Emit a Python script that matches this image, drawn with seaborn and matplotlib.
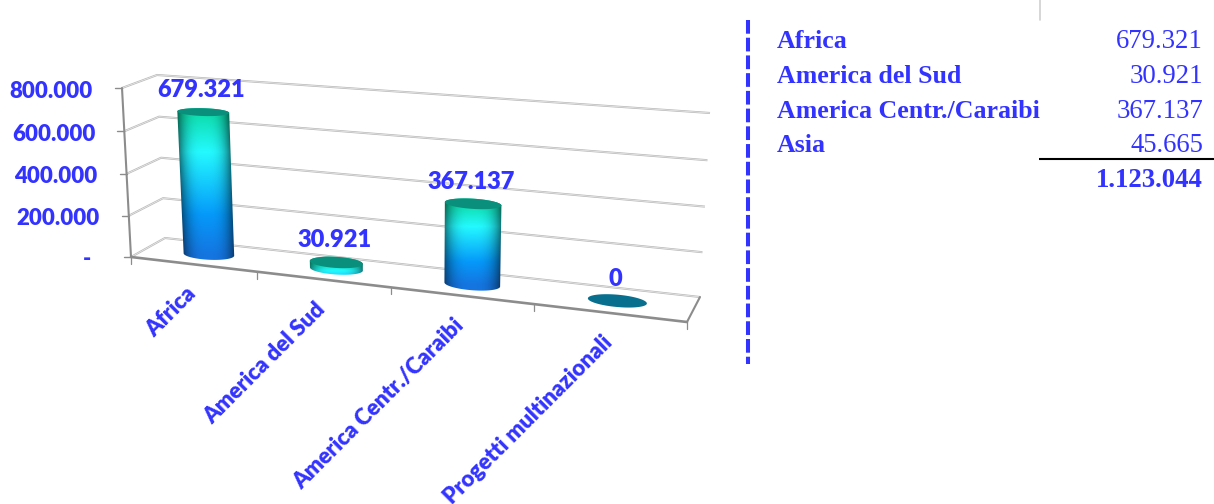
import numpy as np
import matplotlib
matplotlib.use("Agg")
import matplotlib.pyplot as plt
from matplotlib.patches import Polygon
import seaborn as sns

# Chart data
categories = ["Africa", "America del Sud", "America Centr./Caraibi", "Progetti multinazionali"]
values = [679321, 30921, 367137, 0]
axis_levels = [0, 200000, 400000, 600000, 800000]

# Side table data
table_names = ["Africa", "America del Sud", "America Centr./Caraibi", "Asia"]
table_values = [679321, 30921, 367137, 45665]
table_total = 1123044

BLUE = "#3333ff"
AXIS_GREY = "#8c8c8c"
GRID_GREY = "#bababa"
VMAX = axis_levels[-1]
BAR_DEPTH = 0.5
DEPTH_RADIUS = 0.24


def fmt(v):
    return f"{int(v):,}".replace(",", ".")


def homography(corners):
    """Plane map from the unit square to pixels, given corners 00, 10, 01, 11."""
    src = [(0, 0), (1, 0), (0, 1), (1, 1)]
    A, b = [], []
    for (u, v), (x, y) in zip(src, corners):
        A.append([u, v, 1, 0, 0, 0, -u * x, -v * x])
        A.append([0, 0, 0, u, v, 1, -u * y, -v * y])
        b += [x, y]
    return np.append(np.linalg.solve(np.array(A, float), np.array(b, float)), 1).reshape(3, 3)


FRONT = homography([(131, 257), (687, 322), (122, 88), (697, 131)])
BACK = homography([(165, 238), (700, 297), (157, 75), (710, 113)])


def apply_h(H, u, v):
    u, v = np.asarray(u, float), np.asarray(v, float)
    w = H[2, 0] * u + H[2, 1] * v + H[2, 2]
    return (H[0, 0] * u + H[0, 1] * v + H[0, 2]) / w, (H[1, 0] * u + H[1, 1] * v + H[1, 2]) / w


def project(cat, value, depth=0.0):
    """Map category position, value and depth (0 front, 1 back) to canvas pixels."""
    u = (np.asarray(cat, float) + 0.5) / len(categories)
    v = np.asarray(value, float) / VMAX
    fx, fy = apply_h(FRONT, u, v)
    bx, by = apply_h(BACK, u, v)
    return (1 - depth) * fx + depth * bx, (1 - depth) * fy + depth * by


def ring(center, half_width, value):
    theta = np.linspace(0, 2 * np.pi, 90)
    depth = BAR_DEPTH + DEPTH_RADIUS * np.sin(theta)
    x, y = project(center + half_width * np.cos(theta), value, depth)
    return np.column_stack([x, y])


def convex_hull(points):
    pts = sorted(map(tuple, points))

    def half(seq):
        out = []
        for p in seq:
            while len(out) > 1 and ((out[-1][0] - out[-2][0]) * (p[1] - out[-2][1])
                                    - (out[-1][1] - out[-2][1]) * (p[0] - out[-2][0])) <= 0:
                out.pop()
            out.append(p)
        return out[:-1]

    return np.array(half(pts) + half(pts[::-1]))


def cylinder_shading(xx, yy, top_xy, base_xy, half_px):
    """RGB shading of a cylinder side: green at the top, cyan, then blue at the base."""
    t = np.clip((yy - top_xy[1]) / max(base_xy[1] - top_xy[1], 30), 0, 1)
    stops = [0, 0.28, 0.72, 1]
    r = np.interp(t, stops, [0.05, 0.14, 0.02, 0.08])
    g = np.interp(t, stops, [0.86, 0.98, 0.60, 0.46])
    b = np.interp(t, stops, [0.66, 1.00, 0.98, 0.88])
    cx = top_xy[0] + t * (base_xy[0] - top_xy[0])
    s = np.clip((xx - cx) / half_px, -1.2, 1.2)
    shade = 1 - 0.5 * np.abs(s) ** 3
    return np.clip(np.dstack([r * shade, g * shade, b * shade]), 0, 1)


sns.set_theme(style="white")
plt.rcParams["font.family"] = ["Lato", "DejaVu Sans"]
LABEL_WEIGHT = 800

fig = plt.figure(figsize=(12.14, 5.04), dpi=100, facecolor="white")

# Bars come from seaborn; their extents are then drawn in the oblique view
bar_ax = fig.add_axes([0, 0, 1, 1])
sns.barplot(x=categories, y=values, width=0.39, ax=bar_ax)
bars = [(p.get_x() + p.get_width() / 2, p.get_width() / 2, p.get_height()) for p in bar_ax.patches]
bar_ax.set_visible(False)

canvas = fig.add_axes([0, 0, 1, 1])
canvas.set_xlim(0, 1214)
canvas.set_ylim(504, 0)
canvas.set_autoscale_on(False)
canvas.axis("off")

left, right = -0.5, len(categories) - 0.5

# Gridlines on the side wall and the back wall
for level in axis_levels:
    path = [project(left, level, 0.0), project(left, level, 1.0), project(right, level, 1.0)]
    xs = [float(p[0]) for p in path]
    ys = [float(p[1]) for p in path]
    canvas.plot(xs, ys, color=GRID_GREY, lw=1.5, zorder=1, solid_capstyle="butt")
    canvas.plot(xs, ys, color="#f1f1f1", lw=0.45, zorder=1.1, solid_capstyle="butt")

# Axis frame
x0, y0 = project(left, 0, 0.0)
x1, y1 = project(left, VMAX, 0.0)
canvas.plot([x0, x1], [y0, y1], color=AXIS_GREY, lw=1.5, zorder=2)
xr, yr = project(right, 0, 0.0)
canvas.plot([x0, xr], [y0, yr], color=AXIS_GREY, lw=1.9, zorder=2)
xb, yb = project(right, 0, 1.0)
canvas.plot([xr, xb], [yr, yb], color=AXIS_GREY, lw=1.5, zorder=2)
for i in range(len(categories) + 1):
    tx, ty = project(left + i, 0, 0.0)
    canvas.plot([tx, tx], [ty, ty + 7], color=AXIS_GREY, lw=0.9, zorder=2)

# Value axis ticks and labels
for level in axis_levels:
    tx, ty = project(left, level, 0.0)
    canvas.plot([tx - 7, tx], [ty, ty], color=AXIS_GREY, lw=1.0, zorder=2)
    label = fmt(level) if level else "-"
    canvas.text(tx - (29 if level else 40), ty + 1, label, ha="right", va="center_baseline", color=BLUE,
                fontsize=16, fontweight=LABEL_WEIGHT)

# Category labels
for i, name in enumerate(categories):
    tx, ty = project(i, 0, 0.0)
    canvas.text(tx - 8, ty + 19, name, rotation=45, rotation_mode="anchor", ha="right", va="top",
                color=BLUE, fontsize=16, fontweight=LABEL_WEIGHT)

# Cylinders
for (center, half_width, value) in bars:
    base = ring(center, half_width, 0)
    top = ring(center, half_width, value)
    base_xy = project(center, 0, BAR_DEPTH)
    top_xy = project(center, value, BAR_DEPTH)
    if value > 0:
        hull = convex_hull(np.vstack([base, top]))
        ex0, ey0 = np.floor(hull.min(axis=0)).astype(int)
        ex1, ey1 = np.ceil(hull.max(axis=0)).astype(int)
        xx, yy = np.meshgrid(np.arange(ex0, ex1) + 0.5, np.arange(ey0, ey1) + 0.5)
        half_px = (base[:, 0].max() - base[:, 0].min()) / 2
        image = cylinder_shading(xx, yy, top_xy, base_xy, half_px)
        im = canvas.imshow(image, extent=(ex0, ex1, ey1, ey0), origin="upper", aspect="auto",
                           interpolation="bilinear", zorder=3)
        im.set_clip_path(Polygon(hull, closed=True, transform=canvas.transData))
        canvas.add_patch(Polygon(top, closed=True, facecolor="#0a8f7c", edgecolor="none", zorder=4))
    else:
        canvas.add_patch(Polygon(top, closed=True, facecolor="#086f8e", edgecolor="none", zorder=4))
    canvas.text(top_xy[0] - 2, top_xy[1] - 24, fmt(value), ha="center", va="center_baseline", color=BLUE,
                fontsize=17, fontweight=LABEL_WEIGHT, zorder=5)

# Divider between chart and table
canvas.plot([748, 748], [20, 364], color=BLUE, lw=2.9, linestyle=(0, (3.4, 1.0)), zorder=2)
canvas.plot([1040, 1040], [0, 20], color="#cfcfcf", lw=1.2, zorder=1)

# Side table
row_baselines = [48, 83, 118, 152]
serif = ["Liberation Serif", "DejaVu Serif"]
for y, name, val in zip(row_baselines, table_names, table_values):
    canvas.text(777, y, name, ha="left", va="baseline", color=BLUE, family=serif,
                fontsize=18.6, fontweight="bold")
    canvas.text(1203, y, fmt(val), ha="right", va="baseline", color=BLUE, family=serif,
                fontsize=19.3)
canvas.plot([1039, 1214], [159, 159], color="black", lw=1.5, zorder=2, solid_capstyle="butt")
canvas.text(1203, 187, fmt(table_total), ha="right", va="baseline", color=BLUE, family=serif,
            fontsize=19.3, fontweight="bold")

fig.savefig("out.png", dpi=100, facecolor="white")
